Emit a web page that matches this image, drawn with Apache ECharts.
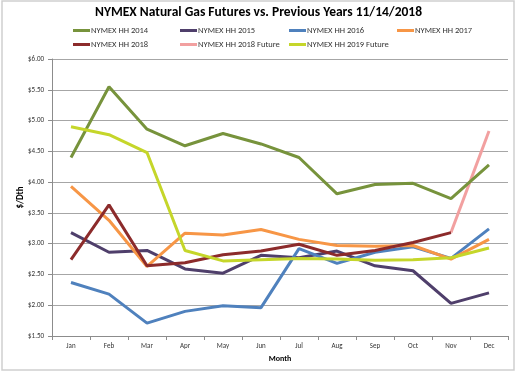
<!DOCTYPE html>
<html><head><meta charset="utf-8">
<script src="https://cdn.jsdelivr.net/npm/echarts@6/dist/echarts.min.js"></script>
<style>html,body{margin:0;padding:0;background:#fff}#c{width:517px;height:377px}</style>
</head><body><div id="c"></div>
<script>
const months = ['Jan','Feb','Mar','Apr','May','Jun','Jul','Aug','Sep','Oct','Nov','Dec'];
const yTicks = [1.5, 2.0, 2.5, 3.0, 3.5, 4.0, 4.5, 5.0, 5.5, 6.0];
const hh2014 = [4.40, 5.55, 4.86, 4.59, 4.79, 4.62, 4.40, 3.81, 3.96, 3.98, 3.73, 4.28];
const hh2015 = [3.18, 2.86, 2.89, 2.59, 2.52, 2.81, 2.77, 2.88, 2.64, 2.56, 2.03, 2.20];
const hh2016 = [2.37, 2.18, 1.71, 1.90, 1.99, 1.96, 2.92, 2.68, 2.86, 2.95, 2.76, 3.24];
const hh2017 = [3.93, 3.38, 2.63, 3.17, 3.14, 3.23, 3.07, 2.97, 2.96, 2.97, 2.75, 3.07];
const hh2018 = [2.74, 3.63, 2.64, 2.69, 2.82, 2.88, 2.99, 2.81, 2.89, 3.02, 3.18, null];
const hh2018Future = [null, null, null, null, null, null, null, null, null, null, 3.18, 4.83];
const hh2019Future = [4.90, 4.77, 4.48, 2.89, 2.72, 2.74, 2.76, 2.75, 2.73, 2.74, 2.77, 2.93];

const names = ['NYMEX HH 2014','NYMEX HH 2015','NYMEX HH 2016','NYMEX HH 2017','NYMEX HH 2018','NYMEX HH 2018 Future','NYMEX HH 2019 Future'];
const colors = ['#77933C','#4F3F6B','#4F81BD','#F79646','#8C2B2B','#F2A0A0','#C5D62A'];
const datas = [hh2014, hh2015, hh2016, hh2017, hh2018, hh2018Future, hh2019Future];
const legendPos = [[73,26],[180,26],[289,26],[397,26],[73,40],[180,40],[289,40]];

const chart = echarts.init(document.getElementById('c'), null, {renderer:'canvas'});
const font = 'Calibri, Carlito, "Liberation Sans", Arial, sans-serif';
chart.setOption({
  animation: false,
  color: colors,
  title: {text: 'NYMEX Natural Gas Futures vs. Previous Years 11/14/2018', left: 'center', top: 1,
    textStyle: {fontSize: 13.5, fontWeight: 'bold', color: '#000', fontFamily: font}},
  legend: names.map((n, i) => ({
    data: [n], left: legendPos[i][0], top: legendPos[i][1], padding: 0, itemWidth: 17, itemHeight: 3, itemGap: 0,
    icon: 'rect', textStyle: {fontSize: 8.5, color: '#333', fontFamily: font, padding: [0,0,0,-4]}
  })),
  graphic: [{type: 'rect', shape: {x: 2, y: 1, width: 512, height: 369}, style: {fill: 'none', stroke: '#CFCFCF', lineWidth: 1.5}, silent: true}],
  grid: {left: 52, right: 9, top: 59, bottom: 41},
  xAxis: {type: 'category', data: months, boundaryGap: true,
    name: 'Month', nameLocation: 'middle', nameGap: 19,
    nameTextStyle: {fontSize: 8, fontWeight: 'bold', color: '#000', fontFamily: font},
    axisLine: {lineStyle: {color: '#8C8C8C'}},
    axisTick: {show: true, alignWithLabel: false, length: 4, lineStyle: {color: '#8C8C8C'}},
    axisLabel: {fontSize: 7, color: '#333', margin: 7, fontFamily: font}},
  yAxis: {type: 'value', min: yTicks[0], max: yTicks[yTicks.length-1], interval: 0.5,
    name: '$/Dth', nameLocation: 'middle', nameGap: 27, nameRotate: 90, nameMoveOverlap: false,
    nameTextStyle: {fontSize: 9, fontWeight: 'bold', color: '#000', fontFamily: font},
    axisLine: {show: true, lineStyle: {color: '#8C8C8C'}},
    axisTick: {show: true, length: 4, lineStyle: {color: '#8C8C8C'}},
    splitLine: {lineStyle: {color: '#A6A6A6', width: 1}},
    axisLabel: {fontSize: 7, color: '#333', margin: 8, fontFamily: font, formatter: v => '$' + v.toFixed(2)}},
  series: names.map((n, i) => ({
    name: n, type: 'line', data: datas[i], symbol: 'none', connectNulls: false,
    lineStyle: {width: 3, color: colors[i]}, itemStyle: {color: colors[i]}, z: i === 5 ? 1 : 2 + i
  }))
});
</script></body></html>
